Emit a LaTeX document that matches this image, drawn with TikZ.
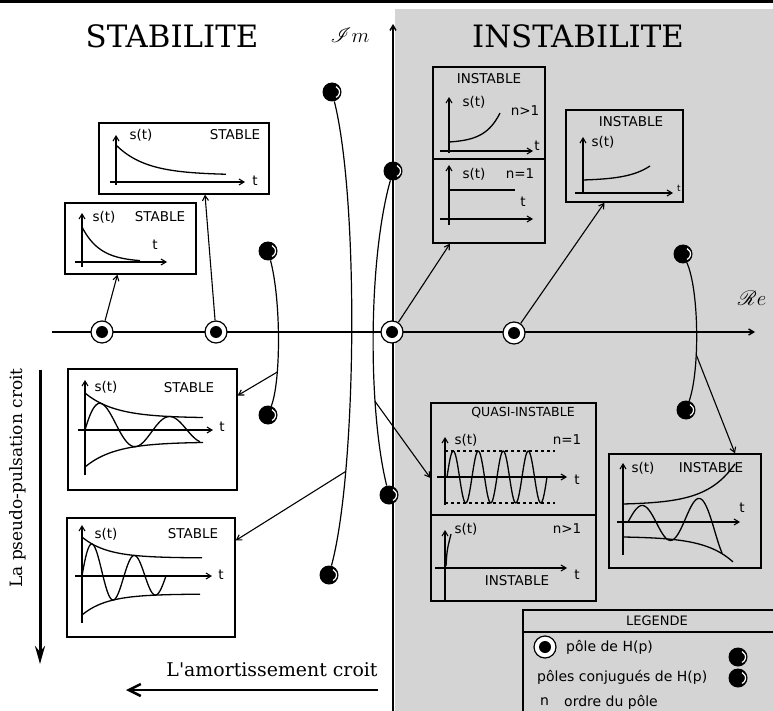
\documentclass[tikz,border=0pt]{standalone}
\usepackage{fontspec}
\setsansfont{DejaVu Sans}
\newfontfamily\titlefont{DejaVu Serif}
\usepackage{mathrsfs}
\usetikzlibrary{arrows.meta,calc}
\definecolor{bggray}{RGB}{212,212,212}
\begin{document}
\begin{tikzpicture}[x=1pt,y=-1pt,
  >={Straight Barb[length=5pt,width=6pt]},
  panel/.style 2 args={draw,line width=1.3pt,minimum width=#1,minimum height=#2,inner sep=0pt},
  pole/.style={circle,draw,line width=1.2pt,fill=white,minimum size=22pt,inner sep=0pt,
    path picture={\fill[black] (path picture bounding box.center) circle (6pt);}},
  conj/.style={circle,fill=black,minimum size=19pt,inner sep=0pt,
    path picture={\draw[white,line width=1.2pt] ($(path picture bounding box.center)+(1.5pt,0pt)+(-65:6pt)$) arc[start angle=-65,end angle=65,radius=6pt];}},
  lab/.style={font=\sffamily\fontsize{13.5}{14}\selectfont,inner sep=0pt},
  ax/.style={->,line width=1.1pt},
  crv/.style={line width=1.3pt},
  link/.style={->,line width=1.1pt}]
\useasboundingbox (0,0) rectangle (773,711);
\fill[black] (0,0) rectangle (773,3);
\fill[bggray] (395,9) rectangle (773,711);

\node[font=\titlefont\fontsize{30.8}{31}\selectfont] (stab) at (172,36) {STABILITE};
\node[font=\titlefont\fontsize{30.8}{31}\selectfont] (instab) at (578,36) {INSTABILITE};

% axes
\coordinate (imlo) at (393,711);
\coordinate (imhi) at (393,24);
\coordinate (relo) at (52,332);
\coordinate (rehi) at (755,332);
\draw[->,line width=1.5pt] (imlo) -- (imhi);
\draw[->,line width=1.5pt] (relo) -- (rehi);
\node[font=\fontsize{20}{20}\selectfont] (imlab) at (350,35) {$\mathscr{I}m$};
\node[font=\fontsize{20}{20}\selectfont] (relab) at (752,298) {$\mathscr{R}e$};

% poles
\node[conj] (a1) at (332,92) {};
\node[conj] (a2) at (329,575) {};
\node[conj] (b1) at (268,251) {};
\node[conj] (b2) at (268,415) {};
\node[conj] (c1) at (393,171) {};
\node[conj] (c2) at (389,495) {};
\node[conj] (d1) at (683,254) {};
\node[conj] (d2) at (686,410) {};
\draw[line width=1.2pt] (a1) .. controls (359,200) and (357,470) .. (a2) coordinate[pos=0.76] (ja);
\draw[line width=1.2pt] (b1) .. controls (281,300) and (281,380) .. (b2) coordinate[pos=0.71] (jb);
\draw[line width=1.2pt] (c1) .. controls (368,260) and (368,410) .. (c2) coordinate[pos=0.7] (jc);
\draw[line width=1.2pt] (d1) .. controls (699,290) and (700,370) .. (d2) coordinate[pos=0.65] (jd);
\node[pole] (p1) at (102,332) {};
\node[pole] (p2) at (216,332) {};
\node[pole] (p3) at (392,332) {};
\node[pole] (p4) at (514,333) {};

% stable boxes
\node[panel={170pt}{71pt}] (boxA) at (184,158.5) {};
\draw[ax] (116,185) -- (116,135);
\draw[ax] (110,182) -- (245,182);
\draw[crv] plot[domain=0:110,samples=40] ({116+\x},{175-30*exp(-\x/30)});
\node[lab] (sA) at (141,135) {s(t)};
\node[lab] (stA) at (235,135) {STABLE};
\node[lab] (tA) at (255,181) {t};

\node[panel={131pt}{71pt}] (boxB) at (130.5,238.5) {};
\draw[ax] (82,267) -- (82,213);
\draw[ax] (75,262) -- (167,262);
\draw[crv] plot[domain=0:58,samples=30] ({82+\x},{262-35*exp(-\x/18)});
\node[lab] (sB) at (104,217) {s(t)};
\node[lab] (stB) at (160,217) {STABLE};
\node[lab] (tB) at (155,245) {t};

\node[panel={169pt}{121pt}] (boxC) at (152.5,429.5) {};
\draw[ax] (85,475) -- (85,380);
\draw[ax] (78,430) -- (213,430);
\draw[crv] plot[domain=0:118,samples=40] ({85+\x},{430-(12+25*exp(-\x/30))});
\draw[crv] plot[domain=0:118,samples=40] ({85+\x},{430+(12+25*exp(-\x/30))});
\draw[crv] plot[domain=0:115,samples=90] ({85+\x},{430-(12+25*exp(-\x/30))*sin(\x/68*360)});
\node[lab] (sC) at (106,387) {s(t)};
\node[lab] (stC) at (189,388) {STABLE};
\node[lab] (tC) at (222,427) {t};

\node[panel={168pt}{119pt}] (boxD) at (151,577.5) {};
\draw[ax] (82,623) -- (82,525);
\draw[ax] (75,576) -- (212,576);
\draw[crv] plot[domain=0:120,samples=40] ({82+\x},{576-(18+21*exp(-\x/25))});
\draw[crv] plot[domain=0:118,samples=40] ({82+\x},{576+(18+21*exp(-\x/25))});
\draw[crv] plot[domain=0:84,samples=90] ({82+\x},{576-(18+21*exp(-\x/25))*sin(\x/42*360)});
\node[lab] (sD) at (106,534) {s(t)};
\node[lab] (stD) at (193,534) {STABLE};
\node[lab] (tD) at (221,575) {t};

% unstable boxes
\node[panel={112pt}{176pt}] (boxE) at (489,155) {};
\draw[line width=1.3pt] ([yshift=-4pt]boxE.west) -- ([yshift=-4pt]boxE.east);
\node[lab] (iE) at (489,79) {INSTABLE};
\draw[ax] (449,153) -- (449,97);
\draw[ax] (440,151) -- (533,151);
\draw[crv] plot[domain=0:51,samples=30] ({449+\x},{142-(exp(\x/15)-1)});
\node[lab] (sE1) at (474,102) {s(t)};
\node[lab] (nE1) at (525,111) {n>1};
\node[lab] (tE1) at (537,146) {t};
\draw[ax] (449,225) -- (449,165);
\draw[ax] (440,219) -- (533,219);
\draw[crv] (449,190) -- (515,190);
\node[lab] (sE2) at (474,174) {s(t)};
\node[lab] (nE2) at (520,174) {n=1};
\node[lab] (tE2) at (523,202) {t};

\node[panel={117pt}{92pt}] (boxF) at (624.5,156) {};
\node[lab] (iF) at (631,122) {INSTABLE};
\draw[ax] (583,193) -- (583,137);
\draw[ax] (575,193) -- (673,193);
\draw[crv] plot[domain=0:67,samples=30] ({583+\x},{180-0.7*(exp(\x/22)-1)});
\node[lab] (sF) at (603,142) {s(t)};
\node[lab,font=\sffamily\fontsize{9}{9}\selectfont] (tF) at (679,188) {t};

\node[panel={165pt}{198pt}] (boxG) at (513.5,502) {};
\draw[line width=1.3pt] ([yshift=-13pt]boxG.west) -- ([yshift=-13pt]boxG.east);
\node[lab,font=\sffamily\fontsize{12.5}{13}\selectfont] (qG) at (523,413) {QUASI-INSTABLE};
\draw[ax] (445,505) -- (445,437);
\draw[ax] (437,477) -- (567,477);
\draw[line width=1.1pt,dashed] (445,451) -- (555,451);
\draw[line width=1.1pt,dashed] (445,503) -- (555,503);
\draw[crv] plot[domain=0:100,samples=161] ({447+\x},{477-26*sin(\x/25*360)});
\node[lab] (sG1) at (466,440) {s(t)};
\node[lab] (nG1) at (567,440) {n=1};
\node[lab] (tG1) at (577,480) {t};
\draw[ax] (445,600) -- (445,530);
\draw[ax] (435,568) -- (567,568);
\draw[crv] (446,566) .. controls (447,550) .. (451,534);
\node[lab] (sG2) at (466,529) {s(t)};
\node[lab] (nG2) at (567,529) {n>1};
\node[lab] (tG2) at (577,575) {t};
\node[lab] (iG) at (517,581) {INSTABLE};

\node[panel={152pt}{114pt}] (boxH) at (685,511) {};
\draw[ax] (623,555) -- (623,463);
\draw[ax] (617,522) -- (740,522);
\draw[crv] plot[domain=0:112,samples=40] ({623+\x},{522-(18+0.75*(exp(\x/28)-1))});
\draw[crv] plot[domain=0:110,samples=40] ({623+\x},{522+(15+0.5*(exp(\x/28)-1))});
\draw[crv] plot[domain=5:99,samples=80] ({623+\x},{522-(16+0.55*(exp(\x/28)-1))*sin((\x-5)/56*360)});
\node[lab] (sH) at (643,468) {s(t)};
\node[lab] (iH) at (711,468) {INSTABLE};
\node[lab] (tH) at (742,508) {t};

% links
\draw[link] (p1) -- ([xshift=-13pt]boxB.south);
\draw[link] (p2) -- ([xshift=21pt]boxA.south);
\draw[link] (jb) -- ([yshift=34pt]boxC.east);
\draw[link] (ja) -- ([yshift=37pt]boxD.east);
\draw[link] (p3) -- ([xshift=-39pt]boxE.south);
\draw[link] (p4) -- ([xshift=-20pt]boxF.south);
\draw[link] (jc) -- ([yshift=24pt]boxG.west);
\draw[link] (jd) -- ([xshift=50pt]boxH.north);

% growth directions
\coordinate (pulshi) at (40,370);
\coordinate (pulslo) at (40,664);
\draw[-{Stealth[length=18pt,width=10pt]},line width=3pt] (pulshi) -- (pulslo);
\node[font=\titlefont\fontsize{17}{17}\selectfont,rotate=90] (puls) at (18,478) {La pseudo-pulsation croit};
\coordinate (amorhi) at (378,690);
\coordinate (amorlo) at (126,690);
\draw[-{Straight Barb[length=12pt,width=12pt]},line width=2.5pt] (amorhi) -- (amorlo);
\node[font=\titlefont\fontsize{18.9}{19}\selectfont] (amort) at (272,670) {L'amortissement croit};

% legend
\draw[line width=1.3pt] (523,716) -- (523,610) -- (778,610);
\draw[line width=1.3pt] (523,632) -- (778,632);
\node[lab,font=\sffamily\fontsize{13}{13}\selectfont] (leg) at (657,621) {LEGENDE};
\node[pole] (lp) at (545,647) {};
\node[lab,anchor=west,font=\sffamily\fontsize{14}{14}\selectfont] (lt1) at (566,647) {pôle de H(p)};
\node[conj] (lc1) at (738,657) {};
\node[conj] (lc2) at (738,678) {};
\node[lab,anchor=west,font=\sffamily\fontsize{14}{14}\selectfont] (lt2) at (537,677) {pôles conjugués de H(p)};
\node[lab,anchor=west,font=\sffamily\fontsize{14}{14}\selectfont] (lt3) at (540,702) {n};
\node[lab,anchor=west,font=\sffamily\fontsize{14}{14}\selectfont] (lt4) at (564,702) {ordre du pôle};
\end{tikzpicture}
\end{document}
